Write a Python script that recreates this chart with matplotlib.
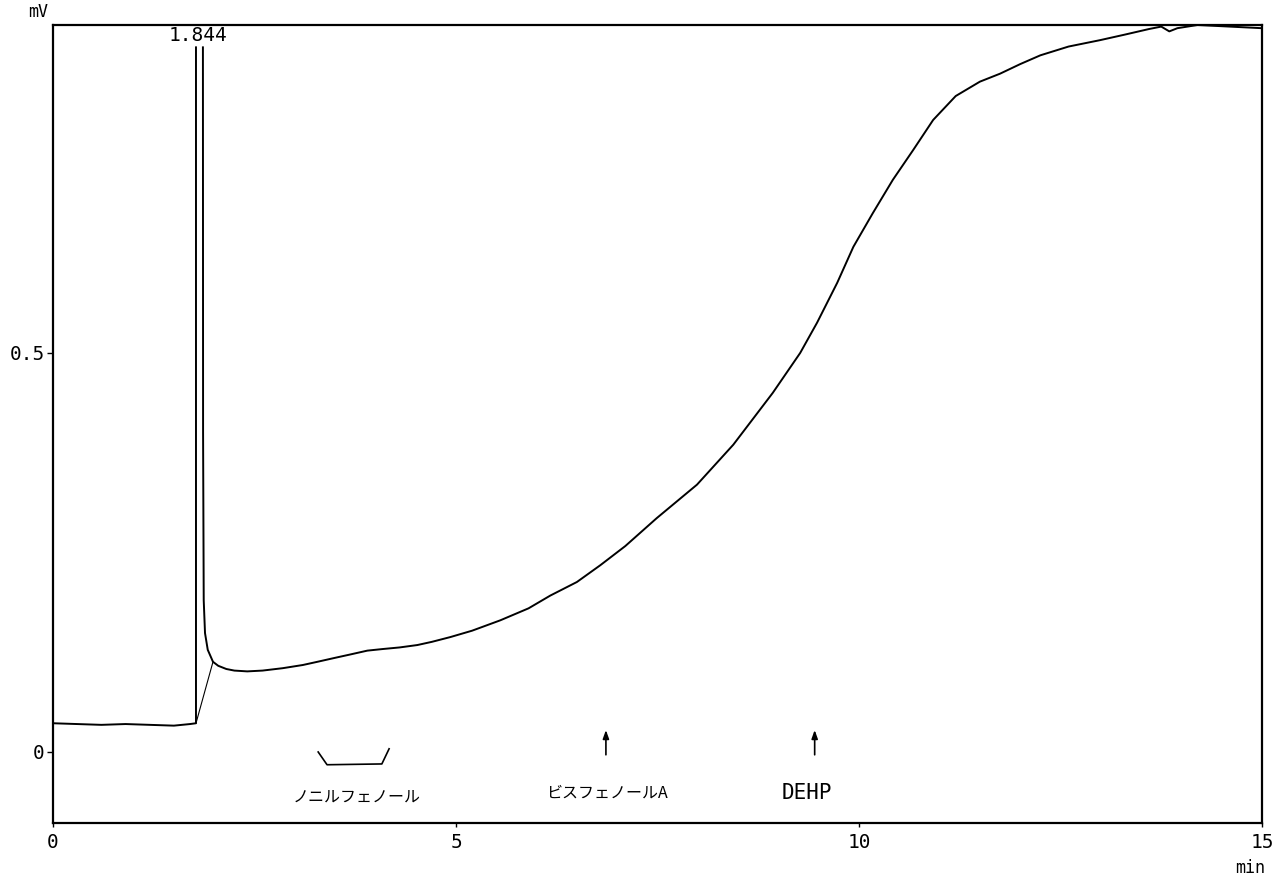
import numpy as np
import matplotlib.pyplot as plt

# chromatogram trace (min, mV); nan = peak off scale
time = [0.0, 0.3, 0.6, 0.9, 1.2, 1.5, 1.70, 1.774, 1.774, np.nan,
        1.86, 1.862, 1.87, 1.886, 1.92, 1.985, 2.05, 2.15, 2.25, 2.41, 2.6,
        2.85, 3.1, 3.28, 3.5, 3.68, 3.9, 4.09, 4.3, 4.52, 4.7, 4.93, 5.2,
        5.55, 5.9, 6.17, 6.5, 6.79, 7.1, 7.49, 7.99, 8.44, 8.93, 9.27, 9.48,
        9.73, 9.93, 10.17, 10.42, 10.67, 10.92, 11.2, 11.5, 11.75, 12.0,
        12.25, 12.6, 12.99, 13.3, 13.6, 13.75, 13.85, 13.95, 14.2, 14.6, 15.0]
signal = [0.036, 0.035, 0.034, 0.035, 0.034, 0.033, 0.035, 0.036, 0.883, np.nan,
          0.883, 0.40, 0.19, 0.149, 0.128, 0.113, 0.108, 0.104, 0.102, 0.101, 0.102,
          0.105, 0.109, 0.113, 0.118, 0.122, 0.127, 0.129, 0.131, 0.134, 0.138, 0.144, 0.152,
          0.165, 0.180, 0.196, 0.213, 0.234, 0.258, 0.293, 0.335, 0.385, 0.450, 0.500, 0.538,
          0.588, 0.633, 0.675, 0.717, 0.754, 0.792, 0.822, 0.840, 0.850, 0.862,
          0.873, 0.884, 0.892, 0.899, 0.906, 0.909, 0.903, 0.907, 0.911, 0.909, 0.907]

# integration baseline drawn under the peak
base_t = [1.774, 1.985]
base_v = [0.036, 0.113]

peak_time = 1.80
peak_label = "1.844"

# compound markers
bracket_t = [3.29, 3.40, 4.08, 4.17]
bracket_v = [0.000, -0.016, -0.015, 0.004]
arrow_t = [6.86, 9.45]
names = ["ノニルフェノール", "ビスフェノールA", "DEHP"]
name_t = [3.77, 6.87, 9.35]

mono = "DejaVu Sans Mono"
jp = ["Noto Sans CJK JP", "DejaVu Sans"]

fig = plt.figure(figsize=(12.81, 8.80), dpi=100)
ax = fig.add_axes([53 / 1281, 57 / 880, 1209 / 1281, 798 / 880])

ax.plot(time, signal, color="black", lw=1.4)
ax.plot(base_t, base_v, color="black", lw=0.8)
ax.text(peak_time, 0.886, peak_label, ha="center", va="bottom",
        fontsize=14, family=mono)

ax.plot(bracket_t, bracket_v, color="black", lw=1.2)
for t in arrow_t:
    ax.annotate("", xy=(t, 0.031), xytext=(t, -0.007),
                arrowprops=dict(arrowstyle="-|>,head_length=0.5,head_width=0.18",
                                color="black", lw=1.2))

ax.text(name_t[0], -0.058, names[0], ha="center", va="center",
        fontsize=11.5, family=jp)
ax.text(name_t[1], -0.052, names[1], ha="center", va="center",
        fontsize=11.5, family=jp)
ax.text(name_t[2], -0.052, names[2], ha="center", va="center",
        fontsize=15, family=mono)

ax.set_xlim(0, 15)
ax.set_ylim(-0.089, 0.911)
ax.set_xticks([0, 5, 10, 15])
ax.set_xticklabels(["0", "5", "10", "15"], family=mono, fontsize=14)
ax.set_yticks([0, 0.5])
ax.set_yticklabels(["0", "0.5"], family=mono, fontsize=14)
ax.tick_params(axis="x", length=3, width=1, pad=4)
ax.tick_params(axis="y", length=4, width=1, pad=2)
for s in ax.spines.values():
    s.set_linewidth(1.6)

fig.text(38 / 1281, 1 - 12 / 880, "mV", ha="center", va="center",
         fontsize=12, family=mono)
fig.text(1250 / 1281, 1 - 868 / 880, "min", ha="center", va="center",
         fontsize=12, family=mono)

fig.savefig("out.png", dpi=100)
